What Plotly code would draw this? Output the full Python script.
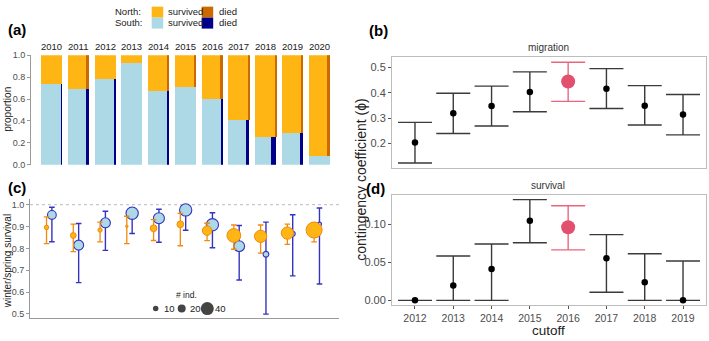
import plotly.graph_objects as go

W, H = 709, 341

# ---------------- data ----------------
years = [2010, 2011, 2012, 2013, 2014, 2015, 2016, 2017, 2018, 2019, 2020]
# panel (a): share of South birds, and width share of the "died" strip
south_prop = [0.74, 0.69, 0.78, 0.93, 0.67, 0.71, 0.60, 0.41, 0.25, 0.29, 0.08]
died_north = [0.0, 0.15, 0.0, 0.0, 0.06, 0.05, 0.08, 0.05, 0.04, 0.05, 0.09]
died_south = [0.035, 0.15, 0.07, 0.0, 0.05, 0.0, 0.05, 0.15, 0.26, 0.12, 0.0]

# panel (c): winter/spring survival
north_surv = [0.896, 0.859, 0.884, 0.901, 0.892, 0.910, 0.881, 0.859, 0.855, 0.870, 0.884]
north_lo = [0.822, 0.785, 0.830, 0.822, 0.836, 0.812, 0.835, 0.796, 0.778, 0.818, 0.830]
north_hi = [0.944, 0.911, 0.920, 0.947, 0.932, 0.960, 0.915, 0.907, 0.907, 0.911, 0.917]
north_n = [10, 15, 9, 2, 19, 19, 30, 47, 41, 41, 56]
south_surv = [0.953, 0.815, 0.917, 0.961, 0.938, 0.976, 0.908, 0.810, 0.773, 0.867, 0.911]
south_lo = [0.830, 0.643, 0.791, 0.868, 0.828, 0.883, 0.803, 0.655, 0.499, 0.674, 0.637]
south_hi = [0.988, 0.914, 0.970, 0.985, 0.979, 0.995, 0.963, 0.905, 0.920, 0.954, 0.985]
south_n = [27, 32, 32, 41, 36, 41, 41, 35, 15, 12, 8]
size_legend = [10, 20, 40]

# panels (b) and (d): contingency coefficient by cutoff
cutoffs = [2012, 2013, 2014, 2015, 2016, 2017, 2018, 2019]
selected_cutoff = 2016
mig = [0.204, 0.319, 0.348, 0.403, 0.444, 0.416, 0.349, 0.314]
mig_lo = [0.123, 0.239, 0.269, 0.325, 0.366, 0.338, 0.273, 0.234]
mig_hi = [0.283, 0.398, 0.426, 0.482, 0.520, 0.495, 0.428, 0.393]
surv = [0.0, 0.0197, 0.0415, 0.105, 0.0966, 0.0556, 0.0239, 0.0]
surv_lo = [0.0, 0.0, 0.0, 0.076, 0.0667, 0.0107, 0.0, 0.0]
surv_hi = [0.0, 0.0585, 0.0744, 0.133, 0.125, 0.0868, 0.0615, 0.052]

# ---------------- styles ----------------
FONT = "Liberation Sans, Arial, sans-serif"
ORANGE = "#FFB513"
DARKORANGE = "#CC6A00"
LIGHTBLUE = "#ADD8E6"
DARKBLUE = "#00008B"
N_EDGE = "#F08A10"
S_EDGE = "#3434C0"
RED = "#E2506E"
RED_ERR = "#E8677F"
TICKC = "#4D4D4D"
AXC = "#9A9A9A"


def px_x(p):
    return p / W


def px_y(p):
    return 1 - p / H


def size_px(n):
    return 2 + 0.25 * n


fig = go.Figure()

# ---------------- panel (a) ----------------
BAR_W = 0.785
idx = list(range(len(years)))
fig.add_trace(go.Bar(x=idx, y=south_prop, base=[0] * len(idx), width=BAR_W,
                     marker=dict(color=LIGHTBLUE, line=dict(width=0)),
                     xaxis="x", yaxis="y", showlegend=False, hoverinfo="skip"))
fig.add_trace(go.Bar(x=idx, y=[1 - p for p in south_prop], base=south_prop, width=BAR_W,
                     marker=dict(color=ORANGE, line=dict(width=0)),
                     xaxis="x", yaxis="y", showlegend=False, hoverinfo="skip"))

ds = [(i, f, p) for i, f, p in zip(idx, died_south, south_prop) if f > 0]
fig.add_trace(go.Bar(x=[i + BAR_W / 2 - BAR_W * f / 2 for i, f, p in ds],
                     y=[p for i, f, p in ds], base=[0] * len(ds),
                     width=[BAR_W * f for i, f, p in ds],
                     marker=dict(color=DARKBLUE, line=dict(width=0)),
                     xaxis="x", yaxis="y", showlegend=False, hoverinfo="skip"))
dn = [(i, f, p) for i, f, p in zip(idx, died_north, south_prop) if f > 0]
fig.add_trace(go.Bar(x=[i + BAR_W / 2 - BAR_W * f / 2 for i, f, p in dn],
                     y=[1 - p for i, f, p in dn], base=[p for i, f, p in dn],
                     width=[BAR_W * f for i, f, p in dn],
                     marker=dict(color=DARKORANGE, line=dict(width=0)),
                     xaxis="x", yaxis="y", showlegend=False, hoverinfo="skip"))

# ---------------- panel (c) ----------------
DODGE = 0.1
xs_s = [i + DODGE for i in idx]
xs_n = [i - DODGE for i in idx]
fig.add_trace(go.Scatter(
    x=xs_s, y=south_surv, mode="markers", xaxis="x2", yaxis="y2",
    error_y=dict(type="data", symmetric=False,
                 array=[h - v for h, v in zip(south_hi, south_surv)],
                 arrayminus=[v - l for v, l in zip(south_surv, south_lo)],
                 color=S_EDGE, thickness=1.4, width=2.8),
    marker=dict(size=[size_px(n) for n in south_n], color=LIGHTBLUE, opacity=1,
                line=dict(color=S_EDGE, width=1.1)),
    showlegend=False, hoverinfo="skip", cliponaxis=False))
fig.add_trace(go.Scatter(
    x=xs_n, y=north_surv, mode="markers", xaxis="x2", yaxis="y2",
    error_y=dict(type="data", symmetric=False,
                 array=[h - v for h, v in zip(north_hi, north_surv)],
                 arrayminus=[v - l for v, l in zip(north_surv, north_lo)],
                 color=N_EDGE, thickness=1.3, width=2.8),
    marker=dict(size=[size_px(n) for n in north_n], color=ORANGE, opacity=1,
                line=dict(color=N_EDGE, width=1.0)),
    showlegend=False, hoverinfo="skip", cliponaxis=False))

# size legend keys (helper pixel axis)
leg_x = [155.7, 181.7, 207.3]
fig.add_trace(go.Scatter(
    x=leg_x, y=[312.7] * 3, mode="markers", xaxis="x5", yaxis="y5",
    marker=dict(size=[size_px(n) + 1 for n in size_legend], color="#444444",
                opacity=1, line=dict(width=0)),
    showlegend=False, hoverinfo="skip", cliponaxis=False))

# ---------------- panels (b) and (d) ----------------
cidx = list(range(len(cutoffs)))
sel = [c == selected_cutoff for c in cutoffs]


def add_ci(vals, lo, hi, xa, ya):
    for flag, color, ecol, size in [(False, "#000000", "#3A3A3A", 6.5), (True, RED, RED_ERR, 14)]:
        ii = [i for i in cidx if sel[i] == flag]
        fig.add_trace(go.Scatter(
            x=ii, y=[vals[i] for i in ii], mode="markers", xaxis=xa, yaxis=ya,
            error_y=dict(type="data", symmetric=False,
                         array=[hi[i] - vals[i] for i in ii],
                         arrayminus=[vals[i] - lo[i] for i in ii],
                         color=ecol, thickness=1.4, width=17),
            marker=dict(size=size, color=color, opacity=1, line=dict(width=0)),
            showlegend=False, hoverinfo="skip", cliponaxis=False))


add_ci(mig, mig_lo, mig_hi, "x3", "y3")
add_ci(surv, surv_lo, surv_hi, "x4", "y4")

# ---------------- layout ----------------
tick_small = dict(size=9, color=TICKC, family=FONT)
tick_big = dict(size=11, color=TICKC, family=FONT)

fig.update_layout(
    width=W, height=H, margin=dict(l=0, r=0, t=0, b=0),
    paper_bgcolor="white", plot_bgcolor="rgba(0,0,0,0)",
    barmode="overlay", bargap=0, font=dict(family=FONT),
    xaxis=dict(domain=[px_x(31), px_x(330)], range=[-0.766, 10.41], visible=False,
               anchor="y"),
    yaxis=dict(domain=[px_y(164.7), px_y(51.7)], range=[0, 1], anchor="x",
               tickvals=[0, 0.2, 0.4, 0.6, 0.8, 1.0], tickformat=".1f",
               showline=True, linecolor=AXC, linewidth=1, ticks="outside", ticklen=3,
               tickcolor=AXC, tickfont=tick_small, showgrid=False, zeroline=False),
    xaxis2=dict(domain=[px_x(30), px_x(339)], range=[-0.718, 10.83], anchor="y2",
                showline=True, linecolor=AXC, linewidth=1, showticklabels=False,
                ticks="", showgrid=False, zeroline=False),
    yaxis2=dict(domain=[px_y(322.7), px_y(200.1)], range=[0.48, 1.025], anchor="x2",
                tickvals=[0.5, 0.6, 0.7, 0.8, 0.9, 1.0], tickformat=".1f",
                showline=True, linecolor=AXC, linewidth=1, ticks="outside", ticklen=3,
                tickcolor=AXC, tickfont=tick_small, showgrid=False, zeroline=False),
    xaxis3=dict(domain=[px_x(392), px_x(706)], range=[-0.6, 7.6], anchor="y3",
                showline=True, mirror=True, linecolor="#BDBDBD", linewidth=1,
                showticklabels=False, ticks="", showgrid=False, zeroline=False),
    yaxis3=dict(domain=[px_y(168), px_y(54)], range=[0.103, 0.539], anchor="x3",
                tickvals=[0.2, 0.3, 0.4, 0.5], tickformat=".1f",
                showline=True, mirror=True, linecolor="#BDBDBD", linewidth=1,
                ticks="outside", ticklen=3, tickcolor="#555555", tickfont=tick_big,
                showgrid=False, zeroline=False),
    xaxis4=dict(domain=[px_x(392), px_x(706)], range=[-0.6, 7.6], anchor="y4",
                tickvals=cidx, ticktext=[str(c) for c in cutoffs],
                showline=True, mirror=True, linecolor="#BDBDBD", linewidth=1,
                ticks="outside", ticklen=3, tickcolor="#555555",
                tickfont=dict(size=10.5, color=TICKC, family=FONT),
                showgrid=False, zeroline=False),
    yaxis4=dict(domain=[px_y(309.5), px_y(195.3)], range=[-0.0067, 0.1397], anchor="x4",
                tickvals=[0, 0.05, 0.10], tickformat=".2f",
                showline=True, mirror=True, linecolor="#BDBDBD", linewidth=1,
                ticks="outside", ticklen=3, tickcolor="#555555", tickfont=tick_big,
                showgrid=False, zeroline=False),
    xaxis5=dict(domain=[0, 1], range=[0, W], visible=False, anchor="y5"),
    yaxis5=dict(domain=[0, 1], range=[H, 0], visible=False, anchor="x5"),
)

# dotted reference line at survival = 1 in (c)
fig.add_shape(type="line", xref="x2 domain", yref="y2", x0=0, x1=1, y0=1.0, y1=1.0,
              line=dict(color="#BBBBBB", width=1, dash="dot"), layer="below")

ann = []


def A(text, x, y, size, color="#1A1A1A", bold=False, xanchor="center", angle=0):
    ann.append(dict(text=("<b>%s</b>" % text) if bold else text,
                    x=px_x(x), y=px_y(y), xref="paper", yref="paper",
                    xanchor=xanchor, yanchor="middle",
                    showarrow=False, textangle=angle,
                    font=dict(size=size, color=color, family=FONT)))


# panel letters
A("(a)", 6, 25, 15, "#000000", bold=True, xanchor="left")
A("(c)", 6, 188, 15, "#000000", bold=True, xanchor="left")
A("(b)", 367, 26, 15, "#000000", bold=True, xanchor="left")
A("(d)", 364, 189, 15, "#000000", bold=True, xanchor="left")

# year facet labels for (a)
for i, yv in zip(idx, years):
    ann.append(dict(text=str(yv), x=i, y=px_y(43), xref="x", yref="paper",
                    showarrow=False, xanchor="center", yanchor="middle",
                    font=dict(size=9.5, color="#1A1A1A", family=FONT)))

# top legend
A("North:", 112.5, 6.7, 9.5, xanchor="left")
A("South:", 112.5, 18.5, 9.5, xanchor="left")
for yy in (6.7, 18.5):
    A("survived", 165.5, yy, 9.5, xanchor="left")
    A("died", 216.5, yy, 9.5, xanchor="left")

# axis titles
A("proportion", 8, 108, 10, angle=-90)
A("winter/spring survival", 7, 264, 10, angle=-90)
A("contingency coefficient (\u03d5)", 361, 180, 14, "#222222", angle=-90)
A("cutoff", 548, 335.5, 13.5, "#222222")
A("migration", 548, 44, 10, "#333333")
A("survival", 548, 186, 10, "#333333")

# size legend text
A("# ind.", 187, 299, 8.5, "#222222")
for xv, n in zip(leg_x, size_legend):
    A(str(n), xv + 6, 312.7, 9.5, "#222222", xanchor="left")

fig.update_layout(annotations=ann)

# legend key squares
keys = [(151.7, 1.7, ORANGE), (201.7, 1.7, DARKORANGE),
        (151.7, 13.0, LIGHTBLUE), (201.7, 13.0, DARKBLUE)]
for x0, y0, c in keys:
    fig.add_shape(type="rect", xref="paper", yref="paper",
                  x0=px_x(x0), x1=px_x(x0 + 11.5), y0=px_y(y0), y1=px_y(y0 + 11.3),
                  line=dict(width=0), fillcolor=c)

fig.write_html(
    "out.html",
    config={"displayModeBar": False},
    post_script="document.documentElement.style.margin='0';"
                "document.documentElement.style.overflow='hidden';"
                "document.body.style.margin='0';document.body.style.overflow='hidden';",
)
